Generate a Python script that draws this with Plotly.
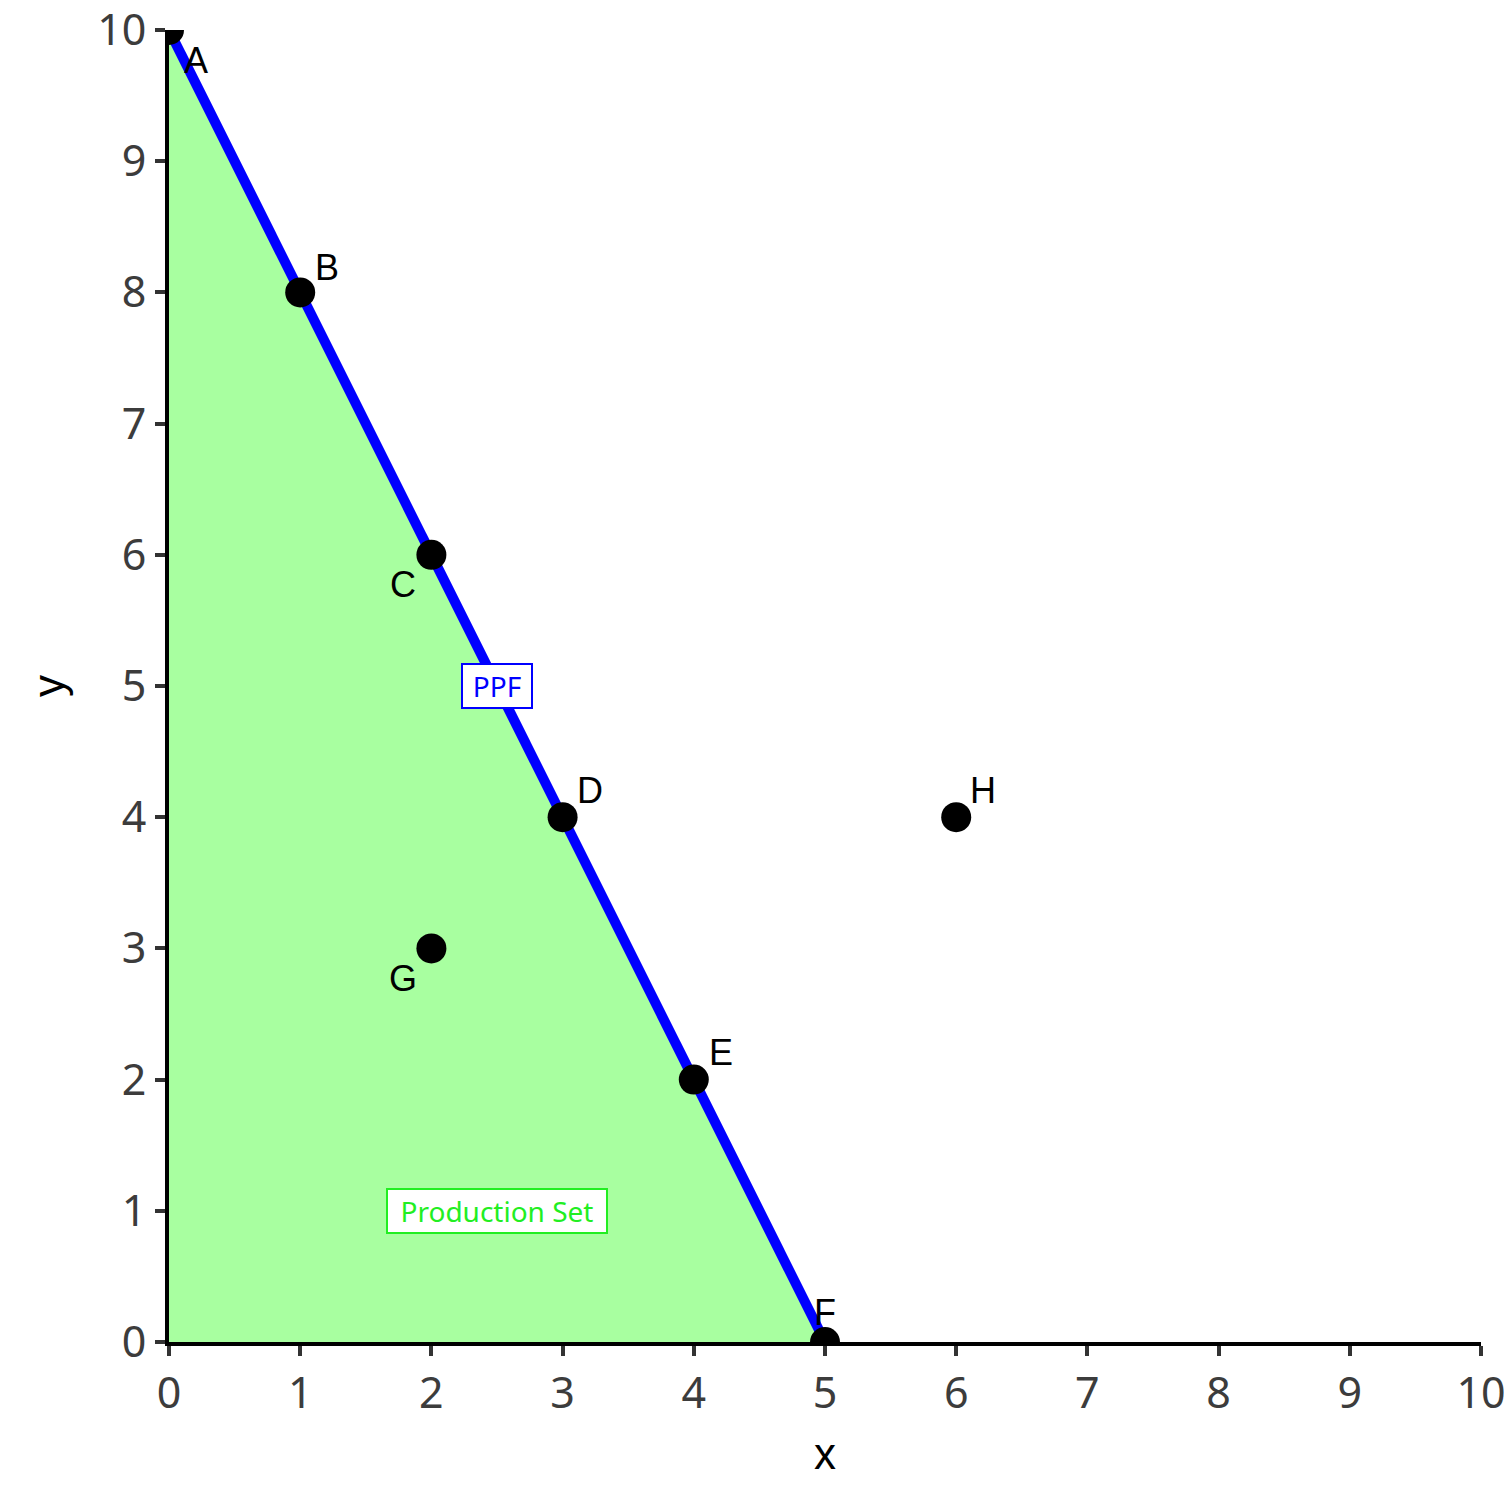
import plotly.graph_objects as go

# data
ppf_x = [0, 5]
ppf_y = [10, 0]
pt_labels = ["A", "B", "C", "D", "E", "F", "G", "H"]
pt_x = [0, 1, 2, 3, 4, 5, 2, 6]
pt_y = [10, 8, 6, 4, 2, 0, 3, 4]
label_dx = [27, 27, -28, 27, 27, 0, -28, 27]
label_dy = [-30, 25, -30, 27, 27, 30, -30, 27]
fill_x = [0, 0, 5, 0]
fill_y = [0, 10, 0, 0]
ticks = list(range(0, 11))

fig = go.Figure()
fig.add_trace(go.Scatter(x=fill_x, y=fill_y, fill="toself", mode="none",
                         fillcolor="rgb(168,255,160)", hoverinfo="skip", showlegend=False))
fig.add_trace(go.Scatter(x=ppf_x, y=ppf_y, mode="lines",
                         line=dict(color="#0000ff", width=10), showlegend=False))
fig.add_trace(go.Scatter(x=pt_x, y=pt_y, mode="markers",
                         marker=dict(color="black", size=30), showlegend=False, cliponaxis=True))

for lab, x, y, dx, dy in zip(pt_labels, pt_x, pt_y, label_dx, label_dy):
    fig.add_annotation(x=x, y=y, text=lab, showarrow=False, xshift=dx, yshift=dy,
                       font=dict(family="Liberation Sans, Arial", size=36, color="black"))

fig.add_annotation(x=2.5, y=5, text="PPF", showarrow=False, width=66, height=40,
                   font=dict(family="Noto Sans, sans-serif", size=28, color="#0000ff"),
                   bgcolor="white", bordercolor="#0000ff", borderwidth=2, borderpad=1)
fig.add_annotation(x=2.5, y=1, text="Production Set", showarrow=False, width=216, height=40,
                   font=dict(family="Noto Sans, sans-serif", size=28, color="#22ee22"),
                   bgcolor="white", bordercolor="#22ee22", borderwidth=2, borderpad=1)

axis_common = dict(range=[0, 10], tickvals=ticks, showgrid=False, zeroline=False,
                   showline=True, linecolor="black", linewidth=4, automargin=False,
                   ticklabeloverflow="allow",
                   ticks="outside", ticklen=10, tickwidth=4, tickcolor="#333333",
                   tickfont=dict(family="Noto Sans, sans-serif", size=43, color="#3c3c3c"))
fig.update_xaxes(**axis_common, title=dict(text="x", font=dict(family="Liberation Sans, Arial", size=44, color="black"), standoff=20))
fig.update_yaxes(**axis_common, title=dict(text="y", font=dict(family="Liberation Sans, Arial", size=44, color="black"), standoff=20))

fig.update_layout(width=1512, height=1512, plot_bgcolor="white", paper_bgcolor="white",
                  margin=dict(l=161, r=39, t=22, b=178), showlegend=False)
fig.write_html("out.html")
